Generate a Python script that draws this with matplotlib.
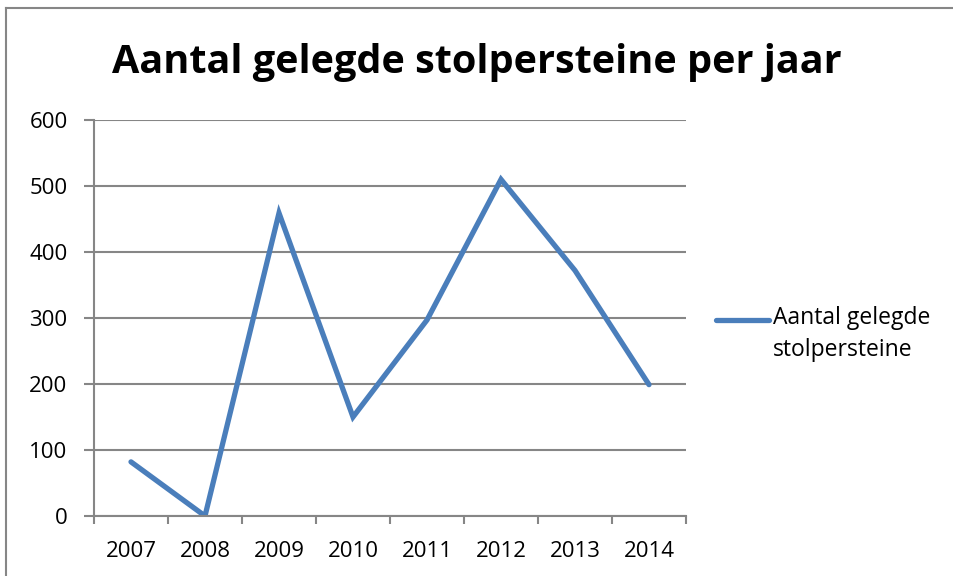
import matplotlib
matplotlib.use("Agg")
import matplotlib.pyplot as plt
from matplotlib.lines import Line2D

years = ["2007", "2008", "2009", "2010", "2011", "2012", "2013", "2014"]
stolpersteine = [82, 0, 459, 150, 297, 510, 372, 199]
series_name = "Aantal gelegde\nstolpersteine"
title = "Aantal gelegde stolpersteine per jaar"

plt.rcParams['font.family'] = ['Open Sans', 'DejaVu Sans']
grey = '#868686'
blue = '#4A7EBB'

fig = plt.figure(figsize=(9.54, 5.76), dpi=100)
ax = fig.add_axes([94 / 954, 1 - 516 / 576, (686 - 94) / 954, (516 - 120) / 576])

x = list(range(len(years)))
ax.plot(x, stolpersteine, color=blue, lw=3.8, solid_joinstyle='miter',
        solid_capstyle='round')

ax.set_xlim(-0.5, len(years) - 0.5)
ax.set_ylim(0, 600)
ax.set_yticks(range(0, 601, 100))
ax.set_xticks(x)
ax.set_xticklabels(years)
ax.set_xticks([i - 0.5 for i in range(len(years) + 1)], minor=True)
ax.tick_params(axis='x', which='major', length=0, pad=18, labelsize=16)
ax.tick_params(axis='x', which='minor', length=6, width=1.5, color=grey, direction='out')
ax.tick_params(axis='y', length=7, width=1.5, color=grey, pad=12, labelsize=16)

ax.grid(axis='y', color=grey, lw=1.5)
ax.set_axisbelow(True)
for side in ['top', 'right']:
    ax.spines[side].set_visible(False)
for side in ['left', 'bottom']:
    ax.spines[side].set_color(grey)
    ax.spines[side].set_linewidth(1.5)

fig.text(0.5, 1 - 63 / 576, title, ha='center', va='center',
         fontsize=28.5, fontweight='bold')

# legend drawn by hand so the line sits beside the first text line
leg_y = 1 - 320 / 576
fig.add_artist(Line2D([716 / 954, 769 / 954], [leg_y, leg_y], color=blue, lw=3.8,
                      solid_capstyle='round'))
fig.text(773 / 954, 1 - 306 / 576, series_name, ha='left', va='top',
         fontsize=16.5, linespacing=1.45)

# chart border (top and left visible)
fig.add_artist(Line2D([6 / 954, 1], [1 - 8 / 576, 1 - 8 / 576], color=grey, lw=1.5))
fig.add_artist(Line2D([6 / 954, 6 / 954], [0, 1 - 8 / 576], color=grey, lw=1.5))

fig.savefig("out.png", dpi=100)
